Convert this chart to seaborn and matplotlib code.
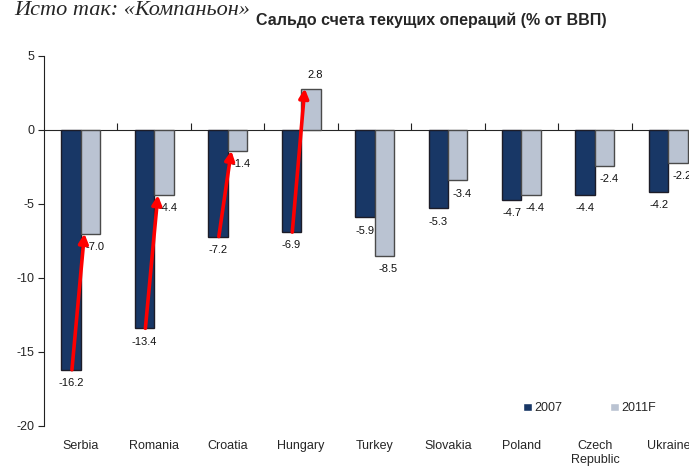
import numpy as np
import pandas as pd
import seaborn as sns
import matplotlib.pyplot as plt

sns.set_style("white")
plt.rcParams['font.family'] = ['Liberation Sans', 'DejaVu Sans']
plt.rcParams['axes.unicode_minus'] = False

# data
countries = ["Serbia", "Romania", "Croatia", "Hungary", "Turkey",
             "Slovakia", "Poland", "Czech\nRepublic", "Ukraine"]
vals_2007 = [-16.2, -13.4, -7.2, -6.9, -5.9, -5.3, -4.7, -4.4, -4.2]
vals_2011 = [-7.0, -4.4, -1.4, 2.8, -8.5, -3.4, -4.4, -2.4, -2.2]
series = ["2007", "2011F"]
arrow_countries = ["Serbia", "Romania", "Croatia", "Hungary"]

colors = {"2007": "#0b3473", "2011F": "#b6c2d6"}
edges = {"2007": "#1c1c28", "2011F": "#4a4a4a"}

df = pd.DataFrame({
    "country": countries * 2,
    "series": [series[0]] * len(countries) + [series[1]] * len(countries),
    "value": vals_2007 + vals_2011,
})

fig = plt.figure(figsize=(6.89, 4.69), dpi=100)
ax = fig.add_axes([0.0639, 0.0917, 0.9594, 0.7889])

sns.barplot(data=df, x="country", y="value", hue="series", order=countries,
            hue_order=series, palette=colors, width=0.53, ax=ax)

for cont, s in zip(ax.containers, series):
    for bar in cont:
        bar.set_edgecolor(edges[s])
        bar.set_linewidth(1.0)

# value labels
for cont, s in zip(ax.containers, series):
    dx = 3 if s == "2011F" else 0
    for bar in cont:
        v = bar.get_height()
        xc = bar.get_x() + bar.get_width() / 2
        dy = 9.5 if v > 0 else -9.5
        ax.annotate("%.1f" % v, (xc, v), xytext=(dx, dy), textcoords="offset points",
                    ha="center", va="center", fontsize=8, color="#111111")

# red arrows from 2007 to 2011F
for c in arrow_countries:
    i = countries.index(c)
    ax.annotate("", xy=(i + 0.05, vals_2011[i]), xytext=(i - 0.12, vals_2007[i]),
                arrowprops=dict(arrowstyle="-|>,head_length=0.55,head_width=0.28",
                                color="#ff0000", lw=2.6, shrinkA=0, shrinkB=0))

ax.set_xlim(-0.5, len(countries) - 0.5)
ax.set_ylim(-20, 5)
ax.set_yticks([5, 0, -5, -10, -15, -20])
ax.set_xlabel("")
ax.set_ylabel("")
ax.tick_params(axis="y", direction="out", length=4, width=0.8, labelsize=9,
               left=True, color="#222222", pad=3)
ax.tick_params(axis="x", length=0, pad=10, labelsize=9)
for lab in ax.get_xticklabels():
    lab.set_verticalalignment("top")

for side in ["top", "right", "bottom"]:
    ax.spines[side].set_visible(False)
ax.spines["left"].set_color("#222222")
ax.spines["left"].set_linewidth(0.8)

# zero line with category boundary ticks
zero = ax.secondary_xaxis(20 / 25)
zero.set_xticks(np.arange(len(countries) - 1) + 0.5)
zero.set_xticklabels([])
zero.tick_params(direction="out", length=5, width=0.8, color="#222222")
zero.spines["bottom"].set_color("#222222")
zero.spines["bottom"].set_linewidth(0.8)

handles, labels = ax.get_legend_handles_labels()
ax.legend(handles, labels, loc="center left", bbox_to_anchor=(0.743, 0.129),
          bbox_transform=fig.transFigure, ncol=2, frameon=False, fontsize=9,
          handlelength=0.7, handleheight=0.7, handletextpad=0.2, columnspacing=3.8)

fig.text(0.626, 0.957, "Сальдо счета текущих операций (% от ВВП)", ha="center",
         va="center", fontsize=11.5, fontweight="bold")
fig.text(0.02, 0.968, "Исто так: «Компаньон»", ha="left", va="baseline",
         fontsize=16, style="italic", family=["Liberation Serif", "DejaVu Serif"])

fig.savefig("out.png", dpi=100)
